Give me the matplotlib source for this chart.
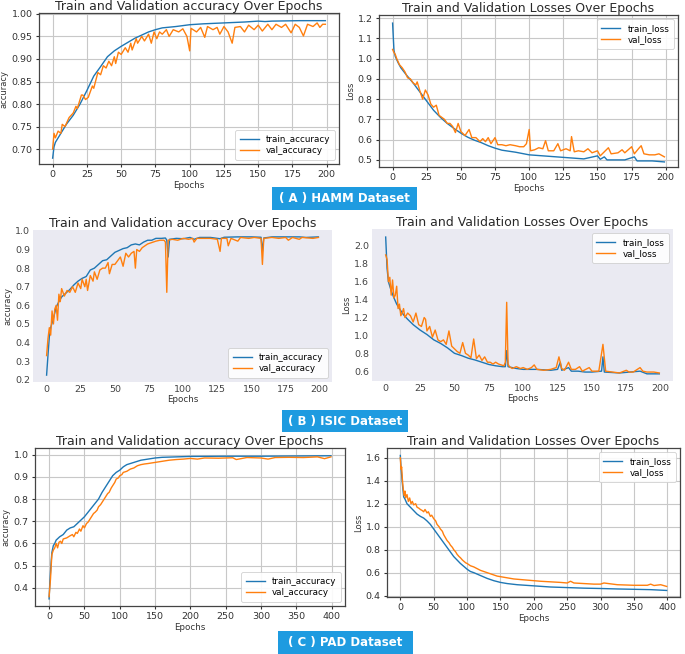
"""
Training curves for three datasets (HAMM, ISIC, PAD): accuracy and loss panels
"""
import matplotlib.pyplot as plt
from matplotlib.patches import Rectangle
from matplotlib.ticker import MultipleLocator

W, H = 685, 654

# ---- HAMM (A) ----
hamm_tacc_ep = [0, 1, 2, 5, 10, 15, 20, 25, 30, 35, 40, 45, 50, 55, 60, 65, 70, 75, 80, 90,
                100, 110, 125, 140, 150, 155, 160, 180, 199]
hamm_tacc = [0.68, 0.705, 0.715, 0.73, 0.755, 0.775, 0.80, 0.83, 0.862, 0.883, 0.905, 0.918,
             0.928, 0.937, 0.946, 0.953, 0.960, 0.965, 0.969, 0.972, 0.976, 0.978, 0.980,
             0.982, 0.984, 0.983, 0.984, 0.985, 0.985]
hamm_vacc_ep = [0, 1, 2, 4, 6, 7, 9, 12, 15, 17, 18, 21, 22, 24, 26, 29, 30, 33, 35, 37, 39,
                41, 43, 45, 46, 48, 50, 53, 55, 57, 58, 61, 62, 65, 67, 70, 72, 74, 76, 78,
                80, 83, 85, 88, 92, 95, 98, 100, 101, 105, 108, 111, 113, 117, 120, 122, 125,
                128, 131, 133, 137, 140, 143, 147, 150, 153, 157, 160, 163, 167, 170, 174,
                177, 180, 183, 186, 190, 193, 195, 197, 199]
hamm_vacc = [0.70, 0.735, 0.725, 0.74, 0.735, 0.755, 0.75, 0.77, 0.78, 0.795, 0.79, 0.82,
             0.82, 0.81, 0.815, 0.84, 0.835, 0.87, 0.865, 0.885, 0.88, 0.895, 0.885, 0.905,
             0.89, 0.915, 0.91, 0.925, 0.915, 0.935, 0.92, 0.945, 0.935, 0.95, 0.94, 0.955,
             0.935, 0.96, 0.945, 0.96, 0.955, 0.965, 0.95, 0.965, 0.96, 0.967, 0.95, 0.918,
             0.968, 0.96, 0.97, 0.948, 0.972, 0.965, 0.97, 0.955, 0.972, 0.96, 0.935, 0.97,
             0.972, 0.96, 0.975, 0.965, 0.975, 0.962, 0.977, 0.965, 0.977, 0.97, 0.977,
             0.958, 0.977, 0.97, 0.951, 0.977, 0.972, 0.98, 0.97, 0.977, 0.977]
hamm_tloss_ep = [0, 1, 2, 4, 6, 10, 15, 20, 25, 30, 35, 40, 45, 50, 55, 60, 65, 70, 75, 80,
                 90, 100, 110, 120, 130, 140, 150, 152, 155, 157, 170, 177, 179, 190, 199]
hamm_tloss = [1.175, 1.04, 1.01, 0.98, 0.955, 0.92, 0.88, 0.835, 0.79, 0.745, 0.71, 0.68,
              0.655, 0.632, 0.612, 0.597, 0.585, 0.57, 0.558, 0.548, 0.538, 0.525, 0.52,
              0.515, 0.51, 0.505, 0.52, 0.503, 0.515, 0.50, 0.50, 0.515, 0.495, 0.495, 0.49]
hamm_vloss_ep = [0, 1, 2, 3, 5, 7, 9, 11, 13, 15, 17, 18, 20, 22, 24, 26, 28, 30, 32, 34, 36,
                 38, 40, 42, 44, 46, 48, 50, 53, 56, 58, 61, 64, 66, 68, 70, 72, 75, 77, 80,
                 83, 86, 90, 93, 96, 98, 100, 101, 104, 107, 110, 112, 114, 118, 121, 123,
                 127, 130, 131, 133, 136, 140, 143, 146, 150, 152, 155, 158, 160, 165, 168,
                 170, 175, 177, 180, 182, 184, 188, 192, 195, 199]
hamm_vloss = [1.045, 1.03, 1.02, 1.0, 0.97, 0.955, 0.935, 0.905, 0.90, 0.88, 0.87, 0.885,
              0.84, 0.80, 0.845, 0.82, 0.775, 0.76, 0.77, 0.72, 0.71, 0.70, 0.68, 0.68, 0.665,
              0.635, 0.68, 0.64, 0.62, 0.65, 0.61, 0.61, 0.59, 0.605, 0.59, 0.61, 0.58, 0.61,
              0.575, 0.575, 0.57, 0.575, 0.57, 0.565, 0.565, 0.58, 0.65, 0.545, 0.55, 0.56,
              0.555, 0.595, 0.545, 0.545, 0.58, 0.545, 0.555, 0.545, 0.615, 0.54, 0.545,
              0.54, 0.555, 0.535, 0.545, 0.52, 0.54, 0.56, 0.53, 0.535, 0.55, 0.535, 0.565,
              0.53, 0.555, 0.57, 0.53, 0.525, 0.525, 0.53, 0.515]

# ---- ISIC (B) ----
isic_tacc_ep = [0, 1, 2, 3, 5, 7, 9, 11, 14, 17, 20, 23, 26, 29, 32, 35, 38, 41, 44, 47, 50,
                53, 56, 59, 62, 65, 68, 71, 74, 77, 80, 84, 87, 88, 89, 90, 95, 100, 105, 108,
                112, 120, 127, 130, 140, 150, 157, 158, 159, 165, 175, 185, 190, 199]
isic_tacc = [0.225, 0.33, 0.43, 0.48, 0.53, 0.59, 0.62, 0.645, 0.665, 0.685, 0.71, 0.73,
             0.745, 0.755, 0.79, 0.80, 0.82, 0.84, 0.845, 0.865, 0.885, 0.895, 0.905, 0.91,
             0.925, 0.93, 0.925, 0.94, 0.95, 0.95, 0.96, 0.96, 0.962, 0.95, 0.86, 0.955,
             0.96, 0.958, 0.965, 0.955, 0.965, 0.965, 0.958, 0.966, 0.968, 0.968, 0.966,
             0.89, 0.962, 0.968, 0.968, 0.968, 0.965, 0.968]
isic_vacc_ep = [0, 1, 2, 3, 4, 5, 6, 7, 8, 9, 10, 11, 13, 15, 17, 19, 21, 23, 25, 26, 28, 29,
                30, 32, 34, 35, 37, 39, 41, 43, 45, 46, 48, 50, 52, 54, 56, 58, 60, 62, 64,
                65, 66, 68, 70, 72, 74, 76, 78, 80, 83, 86, 87, 88, 89, 92, 96, 100, 104, 107,
                108, 110, 115, 120, 125, 127, 128, 132, 133, 135, 140, 142, 148, 152, 157,
                158, 159, 165, 170, 175, 177, 180, 185, 187, 195, 199]
isic_vacc = [0.33, 0.42, 0.48, 0.44, 0.57, 0.50, 0.58, 0.60, 0.52, 0.66, 0.62, 0.69, 0.65,
             0.68, 0.67, 0.70, 0.67, 0.72, 0.69, 0.74, 0.70, 0.74, 0.68, 0.76, 0.73, 0.78,
             0.74, 0.79, 0.80, 0.80, 0.83, 0.77, 0.82, 0.82, 0.84, 0.86, 0.81, 0.88, 0.86,
             0.88, 0.89, 0.80, 0.90, 0.89, 0.91, 0.92, 0.93, 0.935, 0.94, 0.945, 0.95, 0.95,
             0.94, 0.67, 0.95, 0.955, 0.95, 0.96, 0.955, 0.96, 0.94, 0.96, 0.96, 0.96, 0.955,
             0.89, 0.96, 0.96, 0.92, 0.96, 0.945, 0.965, 0.96, 0.965, 0.96, 0.82, 0.96,
             0.965, 0.96, 0.965, 0.95, 0.965, 0.955, 0.965, 0.96, 0.965]
isic_tloss_ep = [0, 1, 2, 4, 6, 8, 10, 13, 16, 20, 25, 30, 35, 40, 45, 50, 55, 60, 65, 70, 75,
                 80, 85, 87, 88, 89, 95, 100, 110, 120, 125, 127, 128, 133, 135, 140, 145,
                 150, 157, 158, 159, 170, 185, 190, 199]
isic_tloss = [2.1, 1.75, 1.6, 1.5, 1.42, 1.35, 1.30, 1.23, 1.18, 1.12, 1.06, 1.01, 0.95,
              0.91, 0.86, 0.80, 0.775, 0.745, 0.725, 0.70, 0.675, 0.66, 0.65, 0.65, 0.83,
              0.65, 0.63, 0.62, 0.62, 0.61, 0.62, 0.70, 0.61, 0.64, 0.60, 0.60, 0.59, 0.59,
              0.60, 0.76, 0.59, 0.58, 0.60, 0.57, 0.57]
isic_vloss_ep = [0, 1, 2, 3, 4, 5, 6, 7, 8, 9, 10, 11, 12, 13, 14, 16, 18, 20, 22, 24, 26, 28,
                 29, 30, 32, 34, 36, 38, 40, 42, 44, 46, 48, 50, 52, 54, 56, 58, 60, 62, 64,
                 66, 68, 70, 72, 74, 76, 78, 80, 82, 84, 86, 87, 88, 89, 90, 92, 95, 98, 100,
                 103, 106, 108, 110, 115, 120, 124, 126, 128, 130, 133, 135, 138, 141, 143,
                 148, 150, 155, 158, 160, 165, 170, 175, 177, 180, 185, 187, 190, 195, 199]
isic_vloss = [1.9, 1.85, 1.6, 1.65, 1.45, 1.62, 1.42, 1.45, 1.55, 1.30, 1.35, 1.22, 1.25,
              1.30, 1.20, 1.25, 1.22, 1.15, 1.25, 1.12, 1.10, 1.20, 1.18, 1.05, 1.10, 0.98,
              1.06, 0.95, 0.93, 0.95, 0.90, 1.05, 0.88, 0.85, 0.82, 0.80, 0.92, 0.80, 0.78,
              0.75, 0.96, 0.74, 0.78, 0.72, 0.76, 0.70, 0.70, 0.68, 0.70, 0.68, 0.67, 0.66,
              0.70, 1.37, 0.68, 0.65, 0.63, 0.65, 0.63, 0.64, 0.62, 0.64, 0.67, 0.62, 0.61,
              0.62, 0.64, 0.76, 0.63, 0.61, 0.70, 0.62, 0.62, 0.65, 0.60, 0.64, 0.60, 0.60,
              0.90, 0.60, 0.59, 0.58, 0.61, 0.59, 0.59, 0.64, 0.60, 0.59, 0.59, 0.58]

# ---- PAD (C) ----
pad_tacc_ep = [0, 1, 2, 3, 4, 6, 8, 10, 15, 20, 25, 30, 35, 40, 45, 50, 55, 60, 65, 70, 75,
               80, 85, 90, 95, 100, 105, 110, 115, 120, 130, 140, 150, 160, 180, 200, 250,
               300, 350, 399]
pad_tacc = [0.35, 0.42, 0.47, 0.52, 0.56, 0.59, 0.60, 0.615, 0.63, 0.64, 0.66, 0.67, 0.675,
            0.69, 0.705, 0.72, 0.74, 0.76, 0.78, 0.80, 0.83, 0.855, 0.88, 0.905, 0.92, 0.93,
            0.945, 0.955, 0.96, 0.965, 0.975, 0.98, 0.985, 0.988, 0.99, 0.992, 0.993, 0.993,
            0.994, 0.995]
pad_vacc_ep = [0, 1, 2, 3, 4, 6, 8, 10, 12, 14, 16, 18, 20, 25, 30, 33, 35, 38, 40, 43, 45,
               48, 50, 53, 55, 58, 60, 63, 65, 68, 70, 73, 75, 78, 80, 83, 85, 88, 90, 93, 95,
               98, 100, 103, 105, 110, 115, 120, 125, 130, 135, 140, 150, 160, 170, 180, 190,
               200, 210, 220, 240, 260, 265, 280, 300, 310, 320, 340, 360, 380, 390, 399]
pad_vacc = [0.36, 0.40, 0.44, 0.50, 0.55, 0.57, 0.58, 0.60, 0.58, 0.605, 0.61, 0.60, 0.62,
            0.625, 0.635, 0.64, 0.63, 0.65, 0.645, 0.665, 0.655, 0.68, 0.67, 0.69, 0.695,
            0.71, 0.72, 0.735, 0.74, 0.75, 0.765, 0.775, 0.785, 0.80, 0.81, 0.825, 0.83,
            0.85, 0.86, 0.875, 0.89, 0.895, 0.905, 0.91, 0.92, 0.925, 0.935, 0.94, 0.95,
            0.955, 0.958, 0.96, 0.965, 0.97, 0.975, 0.978, 0.98, 0.983, 0.98, 0.985, 0.984,
            0.986, 0.978, 0.987, 0.985, 0.98, 0.987, 0.988, 0.987, 0.99, 0.982, 0.99]
pad_tloss_ep = [0, 1, 2, 3, 5, 7, 10, 15, 20, 25, 30, 35, 40, 45, 50, 55, 60, 65, 70, 75, 80,
                85, 90, 95, 100, 105, 110, 120, 130, 140, 150, 160, 175, 200, 225, 250, 275,
                300, 325, 350, 375, 399]
pad_tloss = [1.62, 1.52, 1.45, 1.38, 1.26, 1.24, 1.20, 1.17, 1.14, 1.11, 1.09, 1.075, 1.05,
             1.02, 0.98, 0.94, 0.90, 0.86, 0.82, 0.78, 0.74, 0.71, 0.68, 0.655, 0.63, 0.61,
             0.60, 0.575, 0.55, 0.53, 0.515, 0.505, 0.495, 0.485, 0.475, 0.47, 0.465, 0.462,
             0.458, 0.455, 0.452, 0.445]
pad_vloss_ep = [0, 1, 2, 3, 4, 5, 6, 7, 8, 10, 12, 14, 16, 18, 20, 23, 25, 28, 30, 33, 35, 37,
                40, 42, 45, 47, 50, 53, 55, 58, 60, 63, 65, 68, 70, 73, 75, 78, 80, 83, 85, 88,
                90, 93, 95, 98, 100, 105, 110, 115, 120, 125, 130, 135, 140, 145, 150, 155,
                160, 165, 170, 180, 190, 200, 210, 225, 240, 250, 255, 260, 275, 290, 300,
                305, 325, 350, 370, 375, 380, 390, 399]
pad_vloss = [1.60, 1.50, 1.52, 1.42, 1.35, 1.30, 1.27, 1.31, 1.25, 1.28, 1.22, 1.25, 1.20,
             1.22, 1.19, 1.20, 1.17, 1.16, 1.15, 1.14, 1.13, 1.15, 1.12, 1.13, 1.09, 1.10,
             1.07, 1.05, 1.02, 1.00, 0.98, 0.96, 0.93, 0.90, 0.88, 0.86, 0.84, 0.82, 0.80,
             0.78, 0.76, 0.74, 0.73, 0.71, 0.70, 0.685, 0.68, 0.66, 0.65, 0.635, 0.62, 0.61,
             0.60, 0.59, 0.58, 0.57, 0.565, 0.56, 0.555, 0.55, 0.545, 0.54, 0.535, 0.53,
             0.525, 0.52, 0.515, 0.51, 0.525, 0.51, 0.505, 0.50, 0.50, 0.51, 0.495, 0.49,
             0.49, 0.50, 0.488, 0.495, 0.48]

fig = plt.figure(figsize=(W / 100, H / 100), dpi=100)
fig.patch.set_facecolor('white')


def px_axes(x0, y0, x1, y1):
    # pixel box (left, top, right, bottom) -> figure axes
    return fig.add_axes([x0 / W, 1 - y1 / H, (x1 - x0) / W, (y1 - y0) / H])


def style(ax, dark=False):
    ax.tick_params(labelsize=6.8, length=2.5 if not dark else 0, pad=2,
                   colors='#333333' if not dark else '#444444')
    if dark:
        ax.set_facecolor('#eaeaf2')
        for s in ax.spines.values():
            s.set_visible(False)
        ax.grid(False)
    else:
        ax.grid(True, color='#c8c8c8', lw=0.8)
        ax.set_axisbelow(True)
        for s in ax.spines.values():
            s.set_color('#444444')
            s.set_linewidth(0.9)


def panel(ax, ep_t, yt, ep_v, yv, kind, loc, dark=False):
    style(ax, dark)
    name = 'accuracy' if kind == 'acc' else 'loss'
    ax.plot(ep_t, yt, color='#1f77b4', lw=1.0, label='train_' + name)
    ax.plot(ep_v, yv, color='#ff7f0e', lw=1.0, label='val_' + name)
    if kind == 'acc':
        ax.set_title('Train and Validation accuracy Over Epochs', fontsize=9.0, pad=2,
                     color='#2a2a2a')
        ax.set_ylabel('accuracy', fontsize=6, labelpad=2, color='#333333')
    else:
        ax.set_title('Train and Validation Losses Over Epochs', fontsize=9.0, pad=2,
                     color='#2a2a2a')
        ax.set_ylabel('Loss', fontsize=6, labelpad=2, color='#333333')
    ax.set_xlabel('Epochs', fontsize=6.3, labelpad=1, color='#333333')
    leg = ax.legend(loc=loc, fontsize=6.3, handlelength=2.2, borderpad=0.5, labelspacing=0.3,
                    framealpha=0.9, fancybox=True)
    leg.get_frame().set_edgecolor('#cccccc')
    leg.get_frame().set_linewidth(0.6)


def tag(x0, y0, x1, y1, text):
    fig.patches.append(Rectangle((x0 / W, 1 - y1 / H), (x1 - x0) / W, (y1 - y0) / H,
                                 transform=fig.transFigure, facecolor='#1e9be0',
                                 edgecolor='none'))
    fig.text((x0 + x1) / 2 / W, 1 - (y0 + y1) / 2 / H, text, color='white',
             fontsize=8.5, fontweight='bold', ha='center', va='center')


# Row A
ax = px_axes(39, 13, 339, 164)
panel(ax, hamm_tacc_ep, hamm_tacc, hamm_vacc_ep, hamm_vacc, 'acc', 'lower right')
ax.set_ylim(0.667, 1.002)
ax.yaxis.set_major_locator(MultipleLocator(0.05))
ax.set_xticks(range(0, 201, 25))

ax = px_axes(379, 15, 678, 167)
panel(ax, hamm_tloss_ep, hamm_tloss, hamm_vloss_ep, hamm_vloss, 'loss', 'upper right')
ax.set_ylim(0.465, 1.215)
ax.yaxis.set_major_locator(MultipleLocator(0.1))
ax.set_xticks(range(0, 201, 25))

tag(272, 187, 417, 210, '( A ) HAMM Dataset')

# Row B
ax = px_axes(33, 230, 332, 382)
panel(ax, isic_tacc_ep, isic_tacc, isic_vacc_ep, isic_vacc, 'acc', 'lower right', dark=True)
ax.set_ylim(0.188, 1.005)
ax.yaxis.set_major_locator(MultipleLocator(0.1))
ax.set_xticks(range(0, 201, 25))

ax = px_axes(372, 229, 673, 381)
panel(ax, isic_tloss_ep, isic_tloss, isic_vloss_ep, isic_vloss, 'loss', 'upper right',
      dark=True)
ax.set_ylim(0.49, 2.19)
ax.yaxis.set_major_locator(MultipleLocator(0.2))
ax.set_xticks(range(0, 201, 25))

tag(282, 410, 408, 432, '( B ) ISIC Dataset')

# Row C
ax = px_axes(35, 448, 345, 606)
panel(ax, pad_tacc_ep, pad_tacc, pad_vacc_ep, pad_vacc, 'acc', 'lower right')
ax.set_ylim(0.318, 1.03)
ax.yaxis.set_major_locator(MultipleLocator(0.1))
ax.set_xticks(range(0, 401, 50))

ax = px_axes(387, 448, 680, 597)
panel(ax, pad_tloss_ep, pad_tloss, pad_vloss_ep, pad_vloss, 'loss', 'upper right')
ax.set_ylim(0.388, 1.685)
ax.yaxis.set_major_locator(MultipleLocator(0.2))
ax.set_xticks(range(0, 401, 50))

tag(278, 631, 413, 654, '( C ) PAD Dataset')

fig.savefig('out.png', dpi=100)
plt.close(fig)
